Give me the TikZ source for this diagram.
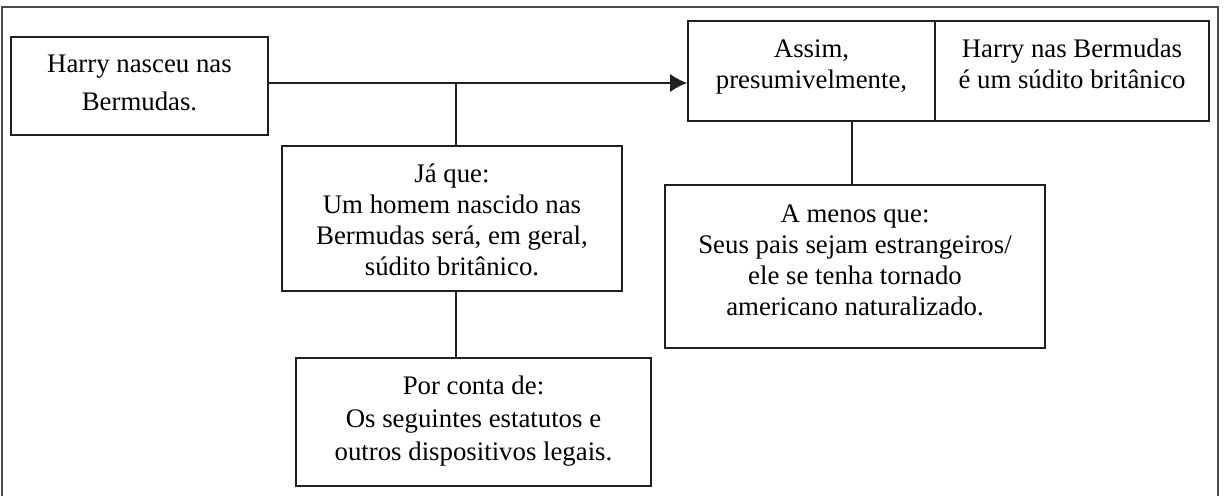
\documentclass[tikz,border=0pt]{standalone}
\usepackage{fontspec}
\setmainfont{Liberation Serif}
\usetikzlibrary{arrows.meta}
\begin{document}
\begin{tikzpicture}[x=1pt,y=-1pt,
  box/.style={draw=black!88, line width=1.6pt, align=center, inner sep=0pt, text depth=0pt, font=\fontsize{26.8}{30.5}\selectfont},
  frame/.style={draw=black!70, line width=1.5pt},
  conn/.style={draw=black!88, line width=1.6pt}]
\useasboundingbox (0,0) rectangle (1225,495);
\draw[frame] (2,7) rectangle (1218,497);
\node[box, minimum width=257pt, minimum height=98pt, text height=48pt, font=\fontsize{26.8}{37}\selectfont] (harry) at (139.5,86) {Harry nasceu nas\\Bermudas.};
\node[box, minimum width=247pt, minimum height=100pt, text height=34pt] (assim) at (811.5,71) {Assim,\\presumivelmente,};
\node[box, minimum width=274pt, minimum height=100pt, text height=34pt] (claim) at (1072,71) {Harry nas Bermudas\\é um súdito britânico};
\node[box, minimum width=340pt, minimum height=145pt, text height=113pt, font=\fontsize{26.8}{30.7}\selectfont] (ja) at (452,218.5) {Já que:\\Um homem nascido nas\\Bermudas será, em geral,\\súdito britânico.};
\node[box, minimum width=355pt, minimum height=128pt, text height=76pt, font=\fontsize{26.8}{33}\selectfont] (por) at (473.5,422) {Por conta de:\\Os seguintes estatutos e\\outros dispositivos legais.};
\node[box, minimum width=380pt, minimum height=163pt, text height=97pt, font=\fontsize{26.8}{31}\selectfont] (amenos) at (855,266.5) {A menos que:\\Seus pais sejam estrangeiros/\\ele se tenha tornado\\americano naturalizado.};
\coordinate (j) at (456,83);
\coordinate (k) at (852,121);
\draw[conn,-{Latex[length=17pt,width=18pt]}] (harry.east |- j) -- (j -| assim.west);
\draw[conn] (j) -- (ja.north -| j);
\draw[conn] (ja.south -| j) -- (por.north -| j);
\draw[conn] (assim.south -| k) -- (amenos.north -| k);
\end{tikzpicture}
\end{document}
